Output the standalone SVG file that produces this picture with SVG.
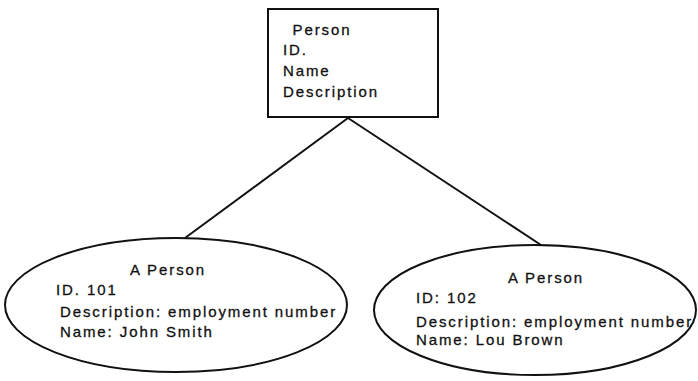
<svg xmlns="http://www.w3.org/2000/svg" width="698" height="381" viewBox="0 0 698 381">
<style>
.shape{fill:#fff;stroke:#111;stroke-width:2}
.conn{fill:none;stroke:#111;stroke-width:2}
text{font-family:"Liberation Sans",Arial,sans-serif;font-size:15px;fill:#111;stroke:#111;stroke-width:0.3;letter-spacing:1.9px}
.c{text-anchor:middle}
</style>
<rect width="698" height="381" fill="#fff"/>
<g id="connectors">
<line class="conn" x1="348" y1="118" x2="185" y2="238"/>
<line class="conn" x1="348" y1="118" x2="541" y2="245"/>
</g>
<g id="person">
<rect class="shape" x="268" y="9" width="170" height="108"/>
<text class="c" x="322" y="35">Person</text>
<text x="283" y="55">ID.</text>
<text x="283" y="76">Name</text>
<text x="283" y="97">Description</text>
</g>
<g id="person-101">
<ellipse class="shape" cx="176" cy="305" rx="171" ry="67"/>
<text class="c" x="168" y="275">A Person</text>
<text x="56" y="295">ID. 101</text>
<text x="60" y="317">Description: employment number</text>
<text x="60" y="337">Name: John Smith</text>
</g>
<g id="person-102">
<ellipse class="shape" cx="535" cy="310" rx="161" ry="65"/>
<text class="c" x="546" y="283">A Person</text>
<text x="416" y="303">ID: 102</text>
<text x="416" y="327">Description: employment number</text>
<text x="416" y="345">Name: Lou Brown</text>
</g>
</svg>
